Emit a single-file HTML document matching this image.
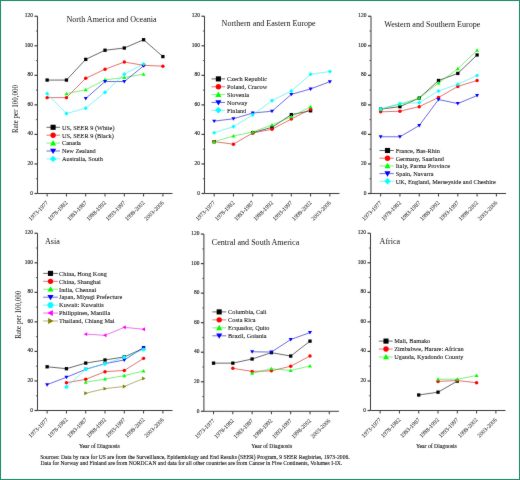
<!DOCTYPE html>
<html><head><meta charset="utf-8"><style>
html,body{margin:0;padding:0;background:#fff;}
svg{display:block;}
#w{will-change:transform;}
text{font-family:"Liberation Serif", serif;}
.tk{fill:#333;stroke:#333;stroke-width:0.05px;}
.bt{fill:#111;stroke:#111;stroke-width:0.1px;}
.yt{fill:#1a1a1a;stroke:#1a1a1a;stroke-width:0.15px;}
.lg{fill:#111;stroke:#111;stroke-width:0.08px;}
</style></head><body><div id="w">
<svg width="520" height="480" viewBox="0 0 520 480" font-family='"Liberation Serif", serif'>
<defs><filter id="soft" x="0" y="0" width="520" height="480" filterUnits="userSpaceOnUse" color-interpolation-filters="sRGB"><feConvolveMatrix order="3" kernelMatrix="1 2 1 2 40 2 1 2 1" divisor="52" edgeMode="duplicate"/></filter></defs>
<rect x="0" y="0" width="520" height="480" fill="#ffffff"/>
<rect x="1.5" y="1.5" width="517" height="477" fill="none" stroke="#dcfcf8" stroke-width="1"/>
<rect x="0.5" y="0.5" width="519" height="479" fill="none" stroke="#3a8a6e" stroke-width="1"/>
<g filter="url(#soft)">
<path d="M37.5 16.25V193.5H172.5" fill="none" stroke="#3a3a3a" stroke-width="1"/>
<path d="M34.5 193.50H37.5" stroke="#3a3a3a" stroke-width="1.2"/>
<text x="33.00" y="195.40" font-size="5.9" textLength="2.73" lengthAdjust="spacingAndGlyphs" text-anchor="end" class="yt">0</text>
<path d="M35.9 178.73H37.5" stroke="#3a3a3a" stroke-width="0.8"/>
<path d="M34.5 163.96H37.5" stroke="#3a3a3a" stroke-width="1.2"/>
<text x="33.00" y="164.86" font-size="5.9" textLength="5.45" lengthAdjust="spacingAndGlyphs" text-anchor="end" class="yt">20</text>
<path d="M35.9 149.19H37.5" stroke="#3a3a3a" stroke-width="0.8"/>
<path d="M34.5 134.42H37.5" stroke="#3a3a3a" stroke-width="1.2"/>
<text x="33.00" y="135.32" font-size="5.9" textLength="5.45" lengthAdjust="spacingAndGlyphs" text-anchor="end" class="yt">40</text>
<path d="M35.9 119.65H37.5" stroke="#3a3a3a" stroke-width="0.8"/>
<path d="M34.5 104.88H37.5" stroke="#3a3a3a" stroke-width="1.2"/>
<text x="33.00" y="105.78" font-size="5.9" textLength="5.45" lengthAdjust="spacingAndGlyphs" text-anchor="end" class="yt">60</text>
<path d="M35.9 90.11H37.5" stroke="#3a3a3a" stroke-width="0.8"/>
<path d="M34.5 75.34H37.5" stroke="#3a3a3a" stroke-width="1.2"/>
<text x="33.00" y="76.24" font-size="5.9" textLength="5.45" lengthAdjust="spacingAndGlyphs" text-anchor="end" class="yt">80</text>
<path d="M35.9 60.57H37.5" stroke="#3a3a3a" stroke-width="0.8"/>
<path d="M34.5 45.80H37.5" stroke="#3a3a3a" stroke-width="1.2"/>
<text x="33.00" y="46.70" font-size="5.9" textLength="8.18" lengthAdjust="spacingAndGlyphs" text-anchor="end" class="yt">100</text>
<path d="M35.9 31.03H37.5" stroke="#3a3a3a" stroke-width="0.8"/>
<path d="M34.5 16.26H37.5" stroke="#3a3a3a" stroke-width="1.2"/>
<text x="33.00" y="17.16" font-size="5.9" textLength="8.18" lengthAdjust="spacingAndGlyphs" text-anchor="end" class="yt">120</text>
<path d="M47.14 193.5V196.5" stroke="#3a3a3a" stroke-width="1"/>
<text transform="translate(48.64,203.30) rotate(-45)" font-size="6.0" textLength="25.13" lengthAdjust="spacingAndGlyphs" text-anchor="end" class="tk">1973-1977</text>
<path d="M66.44 193.5V196.5" stroke="#3a3a3a" stroke-width="1"/>
<text transform="translate(67.94,203.30) rotate(-45)" font-size="6.0" textLength="25.13" lengthAdjust="spacingAndGlyphs" text-anchor="end" class="tk">1978-1982</text>
<path d="M85.72 193.5V196.5" stroke="#3a3a3a" stroke-width="1"/>
<text transform="translate(87.22,203.30) rotate(-45)" font-size="6.0" textLength="25.13" lengthAdjust="spacingAndGlyphs" text-anchor="end" class="tk">1983-1987</text>
<path d="M105.02 193.5V196.5" stroke="#3a3a3a" stroke-width="1"/>
<text transform="translate(106.52,203.30) rotate(-45)" font-size="6.0" textLength="25.13" lengthAdjust="spacingAndGlyphs" text-anchor="end" class="tk">1988-1992</text>
<path d="M124.30 193.5V196.5" stroke="#3a3a3a" stroke-width="1"/>
<text transform="translate(125.80,203.30) rotate(-45)" font-size="6.0" textLength="25.13" lengthAdjust="spacingAndGlyphs" text-anchor="end" class="tk">1993-1997</text>
<path d="M143.59 193.5V196.5" stroke="#3a3a3a" stroke-width="1"/>
<text transform="translate(145.09,203.30) rotate(-45)" font-size="6.0" textLength="25.13" lengthAdjust="spacingAndGlyphs" text-anchor="end" class="tk">1998-2002</text>
<path d="M162.88 193.5V196.5" stroke="#3a3a3a" stroke-width="1"/>
<text transform="translate(164.38,203.30) rotate(-45)" font-size="6.0" textLength="25.13" lengthAdjust="spacingAndGlyphs" text-anchor="end" class="tk">2003-2006</text>
<text x="66.50" y="22.30" font-size="8.5" textLength="90.07" lengthAdjust="spacingAndGlyphs" fill="#111">North America and Oceania</text>
<path d="M47.14 80.07 L66.44 80.07 L85.72 59.39 L105.02 50.23 L124.30 48.02 L143.59 39.74 L162.88 56.58" fill="none" stroke="#000000" stroke-width="0.6" stroke-linejoin="round"/>
<path d="M47.14 97.64 L66.44 97.64 L85.72 78.29 L105.02 69.28 L124.30 62.05 L143.59 65.30 L162.88 66.18" fill="none" stroke="#d21313" stroke-width="0.6" stroke-linejoin="round"/>
<path d="M66.44 93.65 L85.72 89.81 L105.02 79.77 L124.30 77.56 L143.59 74.16" fill="none" stroke="#25e525" stroke-width="0.6" stroke-linejoin="round"/>
<path d="M85.72 98.53 L105.02 81.54 L124.30 81.54 L143.59 65.89" fill="none" stroke="#0707c7" stroke-width="0.6" stroke-linejoin="round"/>
<path d="M47.14 93.65 L66.44 113.59 L85.72 108.13 L105.02 92.33 L124.30 74.16 L143.59 63.97" fill="none" stroke="#2decec" stroke-width="0.6" stroke-linejoin="round"/>
<rect x="45.49" y="78.42" width="3.30" height="3.30" fill="#000000"/>
<rect x="64.78" y="78.42" width="3.30" height="3.30" fill="#000000"/>
<rect x="84.07" y="57.74" width="3.30" height="3.30" fill="#000000"/>
<rect x="103.36" y="48.58" width="3.30" height="3.30" fill="#000000"/>
<rect x="122.65" y="46.37" width="3.30" height="3.30" fill="#000000"/>
<rect x="141.94" y="38.09" width="3.30" height="3.30" fill="#000000"/>
<rect x="161.23" y="54.93" width="3.30" height="3.30" fill="#000000"/>
<circle cx="47.14" cy="97.64" r="1.73" fill="#ff0000"/>
<circle cx="66.44" cy="97.64" r="1.73" fill="#ff0000"/>
<circle cx="85.72" cy="78.29" r="1.73" fill="#ff0000"/>
<circle cx="105.02" cy="69.28" r="1.73" fill="#ff0000"/>
<circle cx="124.30" cy="62.05" r="1.73" fill="#ff0000"/>
<circle cx="143.59" cy="65.30" r="1.73" fill="#ff0000"/>
<circle cx="162.88" cy="66.18" r="1.73" fill="#ff0000"/>
<polygon points="66.44,91.67 68.42,95.14 64.45,95.14" fill="#00ff00"/>
<polygon points="85.72,87.83 87.70,91.30 83.74,91.30" fill="#00ff00"/>
<polygon points="105.02,77.79 107.00,81.26 103.03,81.26" fill="#00ff00"/>
<polygon points="124.30,75.58 126.28,79.04 122.32,79.04" fill="#00ff00"/>
<polygon points="143.59,72.18 145.57,75.64 141.62,75.64" fill="#00ff00"/>
<polygon points="85.72,100.51 87.70,97.04 83.74,97.04" fill="#0000ff"/>
<polygon points="105.02,83.52 107.00,80.06 103.03,80.06" fill="#0000ff"/>
<polygon points="124.30,83.52 126.28,80.06 122.32,80.06" fill="#0000ff"/>
<polygon points="143.59,67.87 145.57,64.40 141.62,64.40" fill="#0000ff"/>
<polygon points="47.14,91.59 49.21,93.65 47.14,95.72 45.08,93.65" fill="#00ffff"/>
<polygon points="66.44,111.53 68.50,113.59 66.44,115.66 64.37,113.59" fill="#00ffff"/>
<polygon points="85.72,106.07 87.79,108.13 85.72,110.19 83.66,108.13" fill="#00ffff"/>
<polygon points="105.02,90.26 107.08,92.33 105.02,94.39 102.95,92.33" fill="#00ffff"/>
<polygon points="124.30,72.10 126.37,74.16 124.30,76.22 122.24,74.16" fill="#00ffff"/>
<polygon points="143.59,61.90 145.66,63.97 143.59,66.03 141.53,63.97" fill="#00ffff"/>
<path d="M46.5 127.30H60" stroke="#000000" stroke-width="0.6"/>
<rect x="50.55" y="124.75" width="5.10" height="5.10" fill="#000000"/>
<text x="62.00" y="129.60" font-size="6.8" textLength="52.50" lengthAdjust="spacingAndGlyphs" class="lg">US, SEER 9 (White)</text>
<path d="M46.5 135.20H60" stroke="#d21313" stroke-width="0.6"/>
<circle cx="53.10" cy="135.20" r="2.68" fill="#ff0000"/>
<text x="62.00" y="137.50" font-size="6.8" textLength="51.80" lengthAdjust="spacingAndGlyphs" class="lg">US, SEER 9 (Black)</text>
<path d="M46.5 143.10H60" stroke="#25e525" stroke-width="0.6"/>
<polygon points="53.10,140.04 56.16,145.39 50.04,145.39" fill="#00ff00"/>
<text x="62.00" y="145.40" font-size="6.8" textLength="18.89" lengthAdjust="spacingAndGlyphs" class="lg">Canada</text>
<path d="M46.5 151.00H60" stroke="#0707c7" stroke-width="0.6"/>
<polygon points="53.10,154.06 56.16,148.71 50.04,148.71" fill="#0000ff"/>
<text x="62.00" y="153.30" font-size="6.8" textLength="33.76" lengthAdjust="spacingAndGlyphs" class="lg">New Zealand</text>
<path d="M46.5 158.90H60" stroke="#2decec" stroke-width="0.6"/>
<polygon points="53.10,155.71 56.29,158.90 53.10,162.09 49.91,158.90" fill="#00ffff"/>
<text x="62.00" y="161.20" font-size="6.8" textLength="40.95" lengthAdjust="spacingAndGlyphs" class="lg">Australia, South</text>
<path d="M204.5 16.25V193.5H339.5" fill="none" stroke="#3a3a3a" stroke-width="1"/>
<path d="M201.5 193.50H204.5" stroke="#3a3a3a" stroke-width="1.2"/>
<text x="200.00" y="195.40" font-size="5.9" textLength="2.73" lengthAdjust="spacingAndGlyphs" text-anchor="end" class="yt">0</text>
<path d="M202.9 178.73H204.5" stroke="#3a3a3a" stroke-width="0.8"/>
<path d="M201.5 163.96H204.5" stroke="#3a3a3a" stroke-width="1.2"/>
<text x="200.00" y="164.86" font-size="5.9" textLength="5.45" lengthAdjust="spacingAndGlyphs" text-anchor="end" class="yt">20</text>
<path d="M202.9 149.19H204.5" stroke="#3a3a3a" stroke-width="0.8"/>
<path d="M201.5 134.42H204.5" stroke="#3a3a3a" stroke-width="1.2"/>
<text x="200.00" y="135.32" font-size="5.9" textLength="5.45" lengthAdjust="spacingAndGlyphs" text-anchor="end" class="yt">40</text>
<path d="M202.9 119.65H204.5" stroke="#3a3a3a" stroke-width="0.8"/>
<path d="M201.5 104.88H204.5" stroke="#3a3a3a" stroke-width="1.2"/>
<text x="200.00" y="105.78" font-size="5.9" textLength="5.45" lengthAdjust="spacingAndGlyphs" text-anchor="end" class="yt">60</text>
<path d="M202.9 90.11H204.5" stroke="#3a3a3a" stroke-width="0.8"/>
<path d="M201.5 75.34H204.5" stroke="#3a3a3a" stroke-width="1.2"/>
<text x="200.00" y="76.24" font-size="5.9" textLength="5.45" lengthAdjust="spacingAndGlyphs" text-anchor="end" class="yt">80</text>
<path d="M202.9 60.57H204.5" stroke="#3a3a3a" stroke-width="0.8"/>
<path d="M201.5 45.80H204.5" stroke="#3a3a3a" stroke-width="1.2"/>
<text x="200.00" y="46.70" font-size="5.9" textLength="8.18" lengthAdjust="spacingAndGlyphs" text-anchor="end" class="yt">100</text>
<path d="M202.9 31.03H204.5" stroke="#3a3a3a" stroke-width="0.8"/>
<path d="M201.5 16.26H204.5" stroke="#3a3a3a" stroke-width="1.2"/>
<text x="200.00" y="17.16" font-size="5.9" textLength="8.18" lengthAdjust="spacingAndGlyphs" text-anchor="end" class="yt">120</text>
<path d="M214.15 193.5V196.5" stroke="#3a3a3a" stroke-width="1"/>
<text transform="translate(215.65,203.30) rotate(-45)" font-size="6.0" textLength="25.13" lengthAdjust="spacingAndGlyphs" text-anchor="end" class="tk">1973-1977</text>
<path d="M233.44 193.5V196.5" stroke="#3a3a3a" stroke-width="1"/>
<text transform="translate(234.94,203.30) rotate(-45)" font-size="6.0" textLength="25.13" lengthAdjust="spacingAndGlyphs" text-anchor="end" class="tk">1978-1982</text>
<path d="M252.72 193.5V196.5" stroke="#3a3a3a" stroke-width="1"/>
<text transform="translate(254.22,203.30) rotate(-45)" font-size="6.0" textLength="25.13" lengthAdjust="spacingAndGlyphs" text-anchor="end" class="tk">1983-1987</text>
<path d="M272.01 193.5V196.5" stroke="#3a3a3a" stroke-width="1"/>
<text transform="translate(273.51,203.30) rotate(-45)" font-size="6.0" textLength="25.13" lengthAdjust="spacingAndGlyphs" text-anchor="end" class="tk">1988-1992</text>
<path d="M291.31 193.5V196.5" stroke="#3a3a3a" stroke-width="1"/>
<text transform="translate(292.81,203.30) rotate(-45)" font-size="6.0" textLength="25.13" lengthAdjust="spacingAndGlyphs" text-anchor="end" class="tk">1993-1997</text>
<path d="M310.60 193.5V196.5" stroke="#3a3a3a" stroke-width="1"/>
<text transform="translate(312.10,203.30) rotate(-45)" font-size="6.0" textLength="25.13" lengthAdjust="spacingAndGlyphs" text-anchor="end" class="tk">1998-2002</text>
<path d="M329.88 193.5V196.5" stroke="#3a3a3a" stroke-width="1"/>
<text transform="translate(331.38,203.30) rotate(-45)" font-size="6.0" textLength="25.13" lengthAdjust="spacingAndGlyphs" text-anchor="end" class="tk">2003-2006</text>
<text x="221.60" y="26.40" font-size="8.5" textLength="94.10" lengthAdjust="spacingAndGlyphs" fill="#111">Northern and Eastern Europe</text>
<path d="M252.72 132.65 L272.01 127.33 L291.31 114.63 L310.60 110.79" fill="none" stroke="#000000" stroke-width="0.6" stroke-linejoin="round"/>
<path d="M214.15 141.66 L233.44 144.17 L252.72 132.94 L272.01 129.25 L291.31 119.06 L310.60 109.16" fill="none" stroke="#d21313" stroke-width="0.6" stroke-linejoin="round"/>
<path d="M214.15 141.66 L233.44 136.04 L252.72 131.91 L272.01 124.97 L291.31 116.84 L310.60 106.65" fill="none" stroke="#25e525" stroke-width="0.6" stroke-linejoin="round"/>
<path d="M214.15 121.13 L233.44 118.76 L252.72 113.00 L272.01 111.23 L291.31 94.39 L310.60 88.93 L329.88 81.69" fill="none" stroke="#0707c7" stroke-width="0.6" stroke-linejoin="round"/>
<path d="M214.15 132.80 L233.44 126.59 L252.72 114.92 L272.01 100.60 L291.31 91.00 L310.60 74.31 L329.88 71.50" fill="none" stroke="#2decec" stroke-width="0.6" stroke-linejoin="round"/>
<rect x="212.50" y="140.01" width="3.30" height="3.30" fill="#000000"/>
<rect x="251.07" y="131.00" width="3.30" height="3.30" fill="#000000"/>
<rect x="270.37" y="125.68" width="3.30" height="3.30" fill="#000000"/>
<rect x="289.66" y="112.98" width="3.30" height="3.30" fill="#000000"/>
<rect x="308.95" y="109.14" width="3.30" height="3.30" fill="#000000"/>
<circle cx="214.15" cy="141.66" r="1.73" fill="#ff0000"/>
<circle cx="233.44" cy="144.17" r="1.73" fill="#ff0000"/>
<circle cx="252.72" cy="132.94" r="1.73" fill="#ff0000"/>
<circle cx="272.01" cy="129.25" r="1.73" fill="#ff0000"/>
<circle cx="291.31" cy="119.06" r="1.73" fill="#ff0000"/>
<circle cx="310.60" cy="109.16" r="1.73" fill="#ff0000"/>
<polygon points="214.15,139.68 216.12,143.14 212.17,143.14" fill="#00ff00"/>
<polygon points="233.44,134.06 235.41,137.53 231.46,137.53" fill="#00ff00"/>
<polygon points="252.72,129.93 254.70,133.39 250.75,133.39" fill="#00ff00"/>
<polygon points="272.01,122.99 274.00,126.45 270.03,126.45" fill="#00ff00"/>
<polygon points="291.31,114.86 293.29,118.33 289.32,118.33" fill="#00ff00"/>
<polygon points="310.60,104.67 312.58,108.14 308.62,108.14" fill="#00ff00"/>
<polygon points="214.15,123.11 216.12,119.64 212.17,119.64" fill="#0000ff"/>
<polygon points="233.44,120.74 235.41,117.28 231.46,117.28" fill="#0000ff"/>
<polygon points="252.72,114.98 254.70,111.52 250.75,111.52" fill="#0000ff"/>
<polygon points="272.01,113.21 274.00,109.75 270.03,109.75" fill="#0000ff"/>
<polygon points="291.31,96.37 293.29,92.91 289.32,92.91" fill="#0000ff"/>
<polygon points="310.60,90.91 312.58,87.44 308.62,87.44" fill="#0000ff"/>
<polygon points="329.88,83.67 331.87,80.21 327.90,80.21" fill="#0000ff"/>
<polygon points="214.15,130.73 216.21,132.80 214.15,134.86 212.08,132.80" fill="#00ffff"/>
<polygon points="233.44,124.53 235.50,126.59 233.44,128.65 231.37,126.59" fill="#00ffff"/>
<polygon points="252.72,112.86 254.79,114.92 252.72,116.99 250.66,114.92" fill="#00ffff"/>
<polygon points="272.01,98.53 274.08,100.60 272.01,102.66 269.95,100.60" fill="#00ffff"/>
<polygon points="291.31,88.93 293.37,91.00 291.31,93.06 289.24,91.00" fill="#00ffff"/>
<polygon points="310.60,72.24 312.66,74.31 310.60,76.37 308.53,74.31" fill="#00ffff"/>
<polygon points="329.88,69.44 331.95,71.50 329.88,73.56 327.82,71.50" fill="#00ffff"/>
<path d="M211.5 78.90H225" stroke="#000000" stroke-width="0.6"/>
<rect x="215.85" y="76.35" width="5.10" height="5.10" fill="#000000"/>
<text x="227.00" y="81.20" font-size="6.8" textLength="40.06" lengthAdjust="spacingAndGlyphs" class="lg">Czech Republic</text>
<path d="M211.5 86.75H225" stroke="#d21313" stroke-width="0.6"/>
<circle cx="218.40" cy="86.75" r="2.68" fill="#ff0000"/>
<text x="227.00" y="89.05" font-size="6.8" textLength="40.24" lengthAdjust="spacingAndGlyphs" class="lg">Poland, Cracow</text>
<path d="M211.5 94.60H225" stroke="#25e525" stroke-width="0.6"/>
<polygon points="218.40,91.54 221.46,96.90 215.34,96.90" fill="#00ff00"/>
<text x="227.00" y="96.90" font-size="6.8" textLength="22.05" lengthAdjust="spacingAndGlyphs" class="lg">Slovenia</text>
<path d="M211.5 102.45H225" stroke="#0707c7" stroke-width="0.6"/>
<polygon points="218.40,105.51 221.46,100.16 215.34,100.16" fill="#0000ff"/>
<text x="227.00" y="104.75" font-size="6.8" textLength="20.29" lengthAdjust="spacingAndGlyphs" class="lg">Norway</text>
<path d="M211.5 110.30H225" stroke="#2decec" stroke-width="0.6"/>
<polygon points="218.40,107.11 221.59,110.30 218.40,113.49 215.21,110.30" fill="#00ffff"/>
<text x="227.00" y="112.60" font-size="6.8" textLength="19.25" lengthAdjust="spacingAndGlyphs" class="lg">Finland</text>
<path d="M371.0 16.25V193.5H506.0" fill="none" stroke="#3a3a3a" stroke-width="1"/>
<path d="M368.0 193.50H371.0" stroke="#3a3a3a" stroke-width="1.2"/>
<text x="366.50" y="195.40" font-size="5.9" textLength="2.73" lengthAdjust="spacingAndGlyphs" text-anchor="end" class="yt">0</text>
<path d="M369.4 178.73H371.0" stroke="#3a3a3a" stroke-width="0.8"/>
<path d="M368.0 163.96H371.0" stroke="#3a3a3a" stroke-width="1.2"/>
<text x="366.50" y="164.86" font-size="5.9" textLength="5.45" lengthAdjust="spacingAndGlyphs" text-anchor="end" class="yt">20</text>
<path d="M369.4 149.19H371.0" stroke="#3a3a3a" stroke-width="0.8"/>
<path d="M368.0 134.42H371.0" stroke="#3a3a3a" stroke-width="1.2"/>
<text x="366.50" y="135.32" font-size="5.9" textLength="5.45" lengthAdjust="spacingAndGlyphs" text-anchor="end" class="yt">40</text>
<path d="M369.4 119.65H371.0" stroke="#3a3a3a" stroke-width="0.8"/>
<path d="M368.0 104.88H371.0" stroke="#3a3a3a" stroke-width="1.2"/>
<text x="366.50" y="105.78" font-size="5.9" textLength="5.45" lengthAdjust="spacingAndGlyphs" text-anchor="end" class="yt">60</text>
<path d="M369.4 90.11H371.0" stroke="#3a3a3a" stroke-width="0.8"/>
<path d="M368.0 75.34H371.0" stroke="#3a3a3a" stroke-width="1.2"/>
<text x="366.50" y="76.24" font-size="5.9" textLength="5.45" lengthAdjust="spacingAndGlyphs" text-anchor="end" class="yt">80</text>
<path d="M369.4 60.57H371.0" stroke="#3a3a3a" stroke-width="0.8"/>
<path d="M368.0 45.80H371.0" stroke="#3a3a3a" stroke-width="1.2"/>
<text x="366.50" y="46.70" font-size="5.9" textLength="8.18" lengthAdjust="spacingAndGlyphs" text-anchor="end" class="yt">100</text>
<path d="M369.4 31.03H371.0" stroke="#3a3a3a" stroke-width="0.8"/>
<path d="M368.0 16.26H371.0" stroke="#3a3a3a" stroke-width="1.2"/>
<text x="366.50" y="17.16" font-size="5.9" textLength="8.18" lengthAdjust="spacingAndGlyphs" text-anchor="end" class="yt">120</text>
<path d="M380.64 193.5V196.5" stroke="#3a3a3a" stroke-width="1"/>
<text transform="translate(382.14,203.30) rotate(-45)" font-size="6.0" textLength="25.13" lengthAdjust="spacingAndGlyphs" text-anchor="end" class="tk">1973-1977</text>
<path d="M399.94 193.5V196.5" stroke="#3a3a3a" stroke-width="1"/>
<text transform="translate(401.44,203.30) rotate(-45)" font-size="6.0" textLength="25.13" lengthAdjust="spacingAndGlyphs" text-anchor="end" class="tk">1978-1982</text>
<path d="M419.23 193.5V196.5" stroke="#3a3a3a" stroke-width="1"/>
<text transform="translate(420.73,203.30) rotate(-45)" font-size="6.0" textLength="25.13" lengthAdjust="spacingAndGlyphs" text-anchor="end" class="tk">1983-1987</text>
<path d="M438.51 193.5V196.5" stroke="#3a3a3a" stroke-width="1"/>
<text transform="translate(440.01,203.30) rotate(-45)" font-size="6.0" textLength="25.13" lengthAdjust="spacingAndGlyphs" text-anchor="end" class="tk">1988-1992</text>
<path d="M457.81 193.5V196.5" stroke="#3a3a3a" stroke-width="1"/>
<text transform="translate(459.31,203.30) rotate(-45)" font-size="6.0" textLength="25.13" lengthAdjust="spacingAndGlyphs" text-anchor="end" class="tk">1993-1997</text>
<path d="M477.10 193.5V196.5" stroke="#3a3a3a" stroke-width="1"/>
<text transform="translate(478.60,203.30) rotate(-45)" font-size="6.0" textLength="25.13" lengthAdjust="spacingAndGlyphs" text-anchor="end" class="tk">1998-2002</text>
<path d="M496.38 193.5V196.5" stroke="#3a3a3a" stroke-width="1"/>
<text transform="translate(497.88,203.30) rotate(-45)" font-size="6.0" textLength="25.13" lengthAdjust="spacingAndGlyphs" text-anchor="end" class="tk">2003-2006</text>
<text x="384.20" y="26.60" font-size="8.5" textLength="96.15" lengthAdjust="spacingAndGlyphs" fill="#111">Western and Southern Europe</text>
<path d="M380.64 109.16 L399.94 106.65 L419.23 98.09 L438.51 80.51 L457.81 73.42 L477.10 54.96" fill="none" stroke="#000000" stroke-width="0.6" stroke-linejoin="round"/>
<path d="M380.64 111.82 L399.94 111.23 L419.23 106.65 L438.51 97.49 L457.81 86.42 L477.10 80.51" fill="none" stroke="#d21313" stroke-width="0.6" stroke-linejoin="round"/>
<path d="M380.64 109.16 L399.94 104.14 L419.23 98.09 L438.51 83.02 L457.81 68.84 L477.10 50.23" fill="none" stroke="#25e525" stroke-width="0.6" stroke-linejoin="round"/>
<path d="M380.64 136.78 L399.94 136.78 L419.23 125.56 L438.51 99.56 L457.81 103.55 L477.10 95.57" fill="none" stroke="#0707c7" stroke-width="0.6" stroke-linejoin="round"/>
<path d="M380.64 109.16 L399.94 103.55 L419.23 102.66 L438.51 91.00 L457.81 84.20 L477.10 75.49" fill="none" stroke="#2decec" stroke-width="0.6" stroke-linejoin="round"/>
<rect x="379.00" y="107.51" width="3.30" height="3.30" fill="#000000"/>
<rect x="398.29" y="105.00" width="3.30" height="3.30" fill="#000000"/>
<rect x="417.58" y="96.44" width="3.30" height="3.30" fill="#000000"/>
<rect x="436.87" y="78.86" width="3.30" height="3.30" fill="#000000"/>
<rect x="456.16" y="71.77" width="3.30" height="3.30" fill="#000000"/>
<rect x="475.45" y="53.31" width="3.30" height="3.30" fill="#000000"/>
<circle cx="380.64" cy="111.82" r="1.73" fill="#ff0000"/>
<circle cx="399.94" cy="111.23" r="1.73" fill="#ff0000"/>
<circle cx="419.23" cy="106.65" r="1.73" fill="#ff0000"/>
<circle cx="438.51" cy="97.49" r="1.73" fill="#ff0000"/>
<circle cx="457.81" cy="86.42" r="1.73" fill="#ff0000"/>
<circle cx="477.10" cy="80.51" r="1.73" fill="#ff0000"/>
<polygon points="380.64,107.18 382.62,110.65 378.66,110.65" fill="#00ff00"/>
<polygon points="399.94,102.16 401.92,105.63 397.95,105.63" fill="#00ff00"/>
<polygon points="419.23,96.11 421.21,99.57 417.25,99.57" fill="#00ff00"/>
<polygon points="438.51,81.04 440.50,84.51 436.53,84.51" fill="#00ff00"/>
<polygon points="457.81,66.86 459.79,70.33 455.82,70.33" fill="#00ff00"/>
<polygon points="477.10,48.25 479.08,51.72 475.12,51.72" fill="#00ff00"/>
<polygon points="380.64,138.76 382.62,135.30 378.66,135.30" fill="#0000ff"/>
<polygon points="399.94,138.76 401.92,135.30 397.95,135.30" fill="#0000ff"/>
<polygon points="419.23,127.54 421.21,124.07 417.25,124.07" fill="#0000ff"/>
<polygon points="438.51,101.54 440.50,98.08 436.53,98.08" fill="#0000ff"/>
<polygon points="457.81,105.53 459.79,102.07 455.82,102.07" fill="#0000ff"/>
<polygon points="477.10,97.55 479.08,94.09 475.12,94.09" fill="#0000ff"/>
<polygon points="380.64,107.10 382.71,109.16 380.64,111.23 378.58,109.16" fill="#00ffff"/>
<polygon points="399.94,101.49 402.00,103.55 399.94,105.61 397.87,103.55" fill="#00ffff"/>
<polygon points="419.23,100.60 421.29,102.66 419.23,104.73 417.16,102.66" fill="#00ffff"/>
<polygon points="438.51,88.93 440.58,91.00 438.51,93.06 436.45,91.00" fill="#00ffff"/>
<polygon points="457.81,82.14 459.87,84.20 457.81,86.26 455.74,84.20" fill="#00ffff"/>
<polygon points="477.10,73.43 479.16,75.49 477.10,77.55 475.03,75.49" fill="#00ffff"/>
<path d="M379.5 150.50H393.75" stroke="#000000" stroke-width="0.6"/>
<rect x="384.95" y="147.95" width="5.10" height="5.10" fill="#000000"/>
<text x="395.75" y="152.80" font-size="6.8" textLength="44.09" lengthAdjust="spacingAndGlyphs" class="lg">France, Bas-Rhin</text>
<path d="M379.5 158.20H393.75" stroke="#d21313" stroke-width="0.6"/>
<circle cx="387.50" cy="158.20" r="2.68" fill="#ff0000"/>
<text x="395.75" y="160.50" font-size="6.8" textLength="48.22" lengthAdjust="spacingAndGlyphs" class="lg">Germany, Saarland</text>
<path d="M379.5 165.90H393.75" stroke="#25e525" stroke-width="0.6"/>
<polygon points="387.50,162.84 390.56,168.19 384.44,168.19" fill="#00ff00"/>
<text x="395.75" y="168.20" font-size="6.8" textLength="54.35" lengthAdjust="spacingAndGlyphs" class="lg">Italy, Parma Province</text>
<path d="M379.5 173.60H393.75" stroke="#0707c7" stroke-width="0.6"/>
<polygon points="387.50,176.66 390.56,171.31 384.44,171.31" fill="#0000ff"/>
<text x="395.75" y="175.90" font-size="6.8" textLength="37.78" lengthAdjust="spacingAndGlyphs" class="lg">Spain, Navarra</text>
<path d="M379.5 181.30H393.75" stroke="#2decec" stroke-width="0.6"/>
<polygon points="387.50,178.11 390.69,181.30 387.50,184.49 384.31,181.30" fill="#00ffff"/>
<text x="395.75" y="183.60" font-size="6.8" textLength="100.08" lengthAdjust="spacingAndGlyphs" class="lg">UK, England, Merseyside and Cheshire</text>
<path d="M37.5 233.25V410.5H172.5" fill="none" stroke="#3a3a3a" stroke-width="1"/>
<path d="M34.5 410.50H37.5" stroke="#3a3a3a" stroke-width="1.2"/>
<text x="33.00" y="412.40" font-size="5.9" textLength="2.73" lengthAdjust="spacingAndGlyphs" text-anchor="end" class="yt">0</text>
<path d="M35.9 395.73H37.5" stroke="#3a3a3a" stroke-width="0.8"/>
<path d="M34.5 380.96H37.5" stroke="#3a3a3a" stroke-width="1.2"/>
<text x="33.00" y="381.86" font-size="5.9" textLength="5.45" lengthAdjust="spacingAndGlyphs" text-anchor="end" class="yt">20</text>
<path d="M35.9 366.19H37.5" stroke="#3a3a3a" stroke-width="0.8"/>
<path d="M34.5 351.42H37.5" stroke="#3a3a3a" stroke-width="1.2"/>
<text x="33.00" y="352.32" font-size="5.9" textLength="5.45" lengthAdjust="spacingAndGlyphs" text-anchor="end" class="yt">40</text>
<path d="M35.9 336.65H37.5" stroke="#3a3a3a" stroke-width="0.8"/>
<path d="M34.5 321.88H37.5" stroke="#3a3a3a" stroke-width="1.2"/>
<text x="33.00" y="322.78" font-size="5.9" textLength="5.45" lengthAdjust="spacingAndGlyphs" text-anchor="end" class="yt">60</text>
<path d="M35.9 307.11H37.5" stroke="#3a3a3a" stroke-width="0.8"/>
<path d="M34.5 292.34H37.5" stroke="#3a3a3a" stroke-width="1.2"/>
<text x="33.00" y="293.24" font-size="5.9" textLength="5.45" lengthAdjust="spacingAndGlyphs" text-anchor="end" class="yt">80</text>
<path d="M35.9 277.57H37.5" stroke="#3a3a3a" stroke-width="0.8"/>
<path d="M34.5 262.80H37.5" stroke="#3a3a3a" stroke-width="1.2"/>
<text x="33.00" y="263.70" font-size="5.9" textLength="8.18" lengthAdjust="spacingAndGlyphs" text-anchor="end" class="yt">100</text>
<path d="M35.9 248.03H37.5" stroke="#3a3a3a" stroke-width="0.8"/>
<path d="M34.5 233.26H37.5" stroke="#3a3a3a" stroke-width="1.2"/>
<text x="33.00" y="234.16" font-size="5.9" textLength="8.18" lengthAdjust="spacingAndGlyphs" text-anchor="end" class="yt">120</text>
<path d="M47.14 410.5V413.5" stroke="#3a3a3a" stroke-width="1"/>
<text transform="translate(48.64,420.30) rotate(-45)" font-size="6.0" textLength="25.13" lengthAdjust="spacingAndGlyphs" text-anchor="end" class="tk">1973-1977</text>
<path d="M66.44 410.5V413.5" stroke="#3a3a3a" stroke-width="1"/>
<text transform="translate(67.94,420.30) rotate(-45)" font-size="6.0" textLength="25.13" lengthAdjust="spacingAndGlyphs" text-anchor="end" class="tk">1978-1982</text>
<path d="M85.72 410.5V413.5" stroke="#3a3a3a" stroke-width="1"/>
<text transform="translate(87.22,420.30) rotate(-45)" font-size="6.0" textLength="25.13" lengthAdjust="spacingAndGlyphs" text-anchor="end" class="tk">1983-1987</text>
<path d="M105.02 410.5V413.5" stroke="#3a3a3a" stroke-width="1"/>
<text transform="translate(106.52,420.30) rotate(-45)" font-size="6.0" textLength="25.13" lengthAdjust="spacingAndGlyphs" text-anchor="end" class="tk">1988-1992</text>
<path d="M124.30 410.5V413.5" stroke="#3a3a3a" stroke-width="1"/>
<text transform="translate(125.80,420.30) rotate(-45)" font-size="6.0" textLength="25.13" lengthAdjust="spacingAndGlyphs" text-anchor="end" class="tk">1993-1997</text>
<path d="M143.59 410.5V413.5" stroke="#3a3a3a" stroke-width="1"/>
<text transform="translate(145.09,420.30) rotate(-45)" font-size="6.0" textLength="25.13" lengthAdjust="spacingAndGlyphs" text-anchor="end" class="tk">1998-2002</text>
<path d="M162.88 410.5V413.5" stroke="#3a3a3a" stroke-width="1"/>
<text transform="translate(164.38,420.30) rotate(-45)" font-size="6.0" textLength="25.13" lengthAdjust="spacingAndGlyphs" text-anchor="end" class="tk">2003-2006</text>
<text x="45.00" y="243.60" font-size="8.5" textLength="14.76" lengthAdjust="spacingAndGlyphs" fill="#111">Asia</text>
<path d="M47.14 366.78 L66.44 368.70 L85.72 363.09 L105.02 359.99 L124.30 356.88 L143.59 348.32" fill="none" stroke="#000000" stroke-width="0.6" stroke-linejoin="round"/>
<path d="M66.44 382.73 L85.72 379.34 L105.02 371.65 L124.30 370.47 L143.59 358.36" fill="none" stroke="#d21313" stroke-width="0.6" stroke-linejoin="round"/>
<path d="M85.72 382.14 L105.02 379.04 L124.30 375.64 L143.59 371.06" fill="none" stroke="#25e525" stroke-width="0.6" stroke-linejoin="round"/>
<path d="M47.14 384.65 L66.44 377.27 L85.72 369.29 L105.02 363.68 L124.30 359.99 L143.59 347.58" fill="none" stroke="#0707c7" stroke-width="0.6" stroke-linejoin="round"/>
<path d="M66.44 387.02 L85.72 369.29 L105.02 363.83 L124.30 357.18 L143.59 349.50" fill="none" stroke="#2decec" stroke-width="0.6" stroke-linejoin="round"/>
<path d="M85.72 334.14 L105.02 335.32 L124.30 327.34 L143.59 329.26" fill="none" stroke="#da1ada" stroke-width="0.6" stroke-linejoin="round"/>
<path d="M85.72 393.22 L105.02 388.64 L124.30 386.42 L143.59 378.45" fill="none" stroke="#7c7c1c" stroke-width="0.6" stroke-linejoin="round"/>
<rect x="45.49" y="365.13" width="3.30" height="3.30" fill="#000000"/>
<rect x="64.78" y="367.05" width="3.30" height="3.30" fill="#000000"/>
<rect x="84.07" y="361.44" width="3.30" height="3.30" fill="#000000"/>
<rect x="103.36" y="358.34" width="3.30" height="3.30" fill="#000000"/>
<rect x="122.65" y="355.23" width="3.30" height="3.30" fill="#000000"/>
<rect x="141.94" y="346.67" width="3.30" height="3.30" fill="#000000"/>
<circle cx="66.44" cy="382.73" r="1.73" fill="#ff0000"/>
<circle cx="85.72" cy="379.34" r="1.73" fill="#ff0000"/>
<circle cx="105.02" cy="371.65" r="1.73" fill="#ff0000"/>
<circle cx="124.30" cy="370.47" r="1.73" fill="#ff0000"/>
<circle cx="143.59" cy="358.36" r="1.73" fill="#ff0000"/>
<polygon points="85.72,380.16 87.70,383.63 83.74,383.63" fill="#00ff00"/>
<polygon points="105.02,377.06 107.00,380.52 103.03,380.52" fill="#00ff00"/>
<polygon points="124.30,373.66 126.28,377.13 122.32,377.13" fill="#00ff00"/>
<polygon points="143.59,369.08 145.57,372.55 141.62,372.55" fill="#00ff00"/>
<polygon points="47.14,386.63 49.12,383.17 45.16,383.17" fill="#0000ff"/>
<polygon points="66.44,379.25 68.42,375.78 64.45,375.78" fill="#0000ff"/>
<polygon points="85.72,371.27 87.70,367.81 83.74,367.81" fill="#0000ff"/>
<polygon points="105.02,365.66 107.00,362.19 103.03,362.19" fill="#0000ff"/>
<polygon points="124.30,361.97 126.28,358.50 122.32,358.50" fill="#0000ff"/>
<polygon points="143.59,349.56 145.57,346.09 141.62,346.09" fill="#0000ff"/>
<polygon points="68.50,387.02 67.47,388.80 65.40,388.80 64.37,387.02 65.40,385.23 67.47,385.23" fill="#00ffff"/>
<polygon points="87.79,369.29 86.76,371.08 84.69,371.08 83.66,369.29 84.69,367.51 86.76,367.51" fill="#00ffff"/>
<polygon points="107.08,363.83 106.05,365.61 103.98,365.61 102.95,363.83 103.98,362.04 106.05,362.04" fill="#00ffff"/>
<polygon points="126.37,357.18 125.34,358.97 123.27,358.97 122.24,357.18 123.27,355.39 125.34,355.39" fill="#00ffff"/>
<polygon points="145.66,349.50 144.63,351.29 142.56,351.29 141.53,349.50 142.56,347.71 144.63,347.71" fill="#00ffff"/>
<polygon points="83.74,334.14 87.21,332.16 87.21,336.12" fill="#ff00ff"/>
<polygon points="103.03,335.32 106.50,333.34 106.50,337.30" fill="#ff00ff"/>
<polygon points="122.32,327.34 125.79,325.36 125.79,329.32" fill="#ff00ff"/>
<polygon points="141.62,329.26 145.08,327.28 145.08,331.25" fill="#ff00ff"/>
<polygon points="87.70,393.22 84.24,391.24 84.24,395.20" fill="#808000"/>
<polygon points="107.00,388.64 103.53,386.66 103.53,390.62" fill="#808000"/>
<polygon points="126.28,386.42 122.82,384.44 122.82,388.40" fill="#808000"/>
<polygon points="145.57,378.45 142.11,376.47 142.11,380.43" fill="#808000"/>
<path d="M43.2 273.40H57.9" stroke="#000000" stroke-width="0.6"/>
<rect x="47.95" y="270.85" width="5.10" height="5.10" fill="#000000"/>
<text x="59.10" y="275.70" font-size="6.8" textLength="47.77" lengthAdjust="spacingAndGlyphs" class="lg">China, Hong Kong</text>
<path d="M43.2 281.33H57.9" stroke="#d21313" stroke-width="0.6"/>
<circle cx="50.50" cy="281.33" r="2.68" fill="#ff0000"/>
<text x="59.10" y="283.63" font-size="6.8" textLength="41.64" lengthAdjust="spacingAndGlyphs" class="lg">China, Shanghai</text>
<path d="M43.2 289.26H57.9" stroke="#25e525" stroke-width="0.6"/>
<polygon points="50.50,286.20 53.56,291.56 47.44,291.56" fill="#00ff00"/>
<text x="59.10" y="291.56" font-size="6.8" textLength="37.09" lengthAdjust="spacingAndGlyphs" class="lg">India, Chennai</text>
<path d="M43.2 297.19H57.9" stroke="#0707c7" stroke-width="0.6"/>
<polygon points="50.50,300.25 53.56,294.89 47.44,294.89" fill="#0000ff"/>
<text x="59.10" y="299.49" font-size="6.8" textLength="63.15" lengthAdjust="spacingAndGlyphs" class="lg">Japan, Miyagi Prefecture</text>
<path d="M43.2 305.12H57.9" stroke="#2decec" stroke-width="0.6"/>
<polygon points="53.69,305.12 52.09,307.88 48.91,307.88 47.31,305.12 48.91,302.36 52.09,302.36" fill="#00ffff"/>
<text x="59.10" y="307.42" font-size="6.8" textLength="44.62" lengthAdjust="spacingAndGlyphs" class="lg">Kuwait: Kuwaitis</text>
<path d="M43.2 313.05H57.9" stroke="#da1ada" stroke-width="0.6"/>
<polygon points="47.44,313.05 52.80,309.99 52.80,316.11" fill="#ff00ff"/>
<text x="59.10" y="315.35" font-size="6.8" textLength="51.10" lengthAdjust="spacingAndGlyphs" class="lg">Philippines, Manilla</text>
<path d="M43.2 320.98H57.9" stroke="#7c7c1c" stroke-width="0.6"/>
<polygon points="53.56,320.98 48.20,317.92 48.20,324.04" fill="#808000"/>
<text x="59.10" y="323.28" font-size="6.8" textLength="55.46" lengthAdjust="spacingAndGlyphs" class="lg">Thailand, Chiang Mai</text>
<path d="M203.9 234.05V411.3H338.9" fill="none" stroke="#3a3a3a" stroke-width="1"/>
<path d="M200.9 411.30H203.9" stroke="#3a3a3a" stroke-width="1.2"/>
<text x="199.40" y="413.20" font-size="5.9" textLength="2.73" lengthAdjust="spacingAndGlyphs" text-anchor="end" class="yt">0</text>
<path d="M202.3 396.53H203.9" stroke="#3a3a3a" stroke-width="0.8"/>
<path d="M200.9 381.76H203.9" stroke="#3a3a3a" stroke-width="1.2"/>
<text x="199.40" y="382.66" font-size="5.9" textLength="5.45" lengthAdjust="spacingAndGlyphs" text-anchor="end" class="yt">20</text>
<path d="M202.3 366.99H203.9" stroke="#3a3a3a" stroke-width="0.8"/>
<path d="M200.9 352.22H203.9" stroke="#3a3a3a" stroke-width="1.2"/>
<text x="199.40" y="353.12" font-size="5.9" textLength="5.45" lengthAdjust="spacingAndGlyphs" text-anchor="end" class="yt">40</text>
<path d="M202.3 337.45H203.9" stroke="#3a3a3a" stroke-width="0.8"/>
<path d="M200.9 322.68H203.9" stroke="#3a3a3a" stroke-width="1.2"/>
<text x="199.40" y="323.58" font-size="5.9" textLength="5.45" lengthAdjust="spacingAndGlyphs" text-anchor="end" class="yt">60</text>
<path d="M202.3 307.91H203.9" stroke="#3a3a3a" stroke-width="0.8"/>
<path d="M200.9 293.14H203.9" stroke="#3a3a3a" stroke-width="1.2"/>
<text x="199.40" y="294.04" font-size="5.9" textLength="5.45" lengthAdjust="spacingAndGlyphs" text-anchor="end" class="yt">80</text>
<path d="M202.3 278.37H203.9" stroke="#3a3a3a" stroke-width="0.8"/>
<path d="M200.9 263.60H203.9" stroke="#3a3a3a" stroke-width="1.2"/>
<text x="199.40" y="264.50" font-size="5.9" textLength="8.18" lengthAdjust="spacingAndGlyphs" text-anchor="end" class="yt">100</text>
<path d="M202.3 248.83H203.9" stroke="#3a3a3a" stroke-width="0.8"/>
<path d="M200.9 234.06H203.9" stroke="#3a3a3a" stroke-width="1.2"/>
<text x="199.40" y="234.96" font-size="5.9" textLength="8.18" lengthAdjust="spacingAndGlyphs" text-anchor="end" class="yt">120</text>
<path d="M213.55 411.3V414.3" stroke="#3a3a3a" stroke-width="1"/>
<text transform="translate(215.05,421.10) rotate(-45)" font-size="6.0" textLength="25.13" lengthAdjust="spacingAndGlyphs" text-anchor="end" class="tk">1973-1977</text>
<path d="M232.84 411.3V414.3" stroke="#3a3a3a" stroke-width="1"/>
<text transform="translate(234.34,421.10) rotate(-45)" font-size="6.0" textLength="25.13" lengthAdjust="spacingAndGlyphs" text-anchor="end" class="tk">1978-1982</text>
<path d="M252.12 411.3V414.3" stroke="#3a3a3a" stroke-width="1"/>
<text transform="translate(253.62,421.10) rotate(-45)" font-size="6.0" textLength="25.13" lengthAdjust="spacingAndGlyphs" text-anchor="end" class="tk">1983-1987</text>
<path d="M271.42 411.3V414.3" stroke="#3a3a3a" stroke-width="1"/>
<text transform="translate(272.92,421.10) rotate(-45)" font-size="6.0" textLength="25.13" lengthAdjust="spacingAndGlyphs" text-anchor="end" class="tk">1988-1992</text>
<path d="M290.70 411.3V414.3" stroke="#3a3a3a" stroke-width="1"/>
<text transform="translate(292.20,421.10) rotate(-45)" font-size="6.0" textLength="25.13" lengthAdjust="spacingAndGlyphs" text-anchor="end" class="tk">1993-1997</text>
<path d="M310.00 411.3V414.3" stroke="#3a3a3a" stroke-width="1"/>
<text transform="translate(311.50,421.10) rotate(-45)" font-size="6.0" textLength="25.13" lengthAdjust="spacingAndGlyphs" text-anchor="end" class="tk">1998-2002</text>
<path d="M329.28 411.3V414.3" stroke="#3a3a3a" stroke-width="1"/>
<text transform="translate(330.78,421.10) rotate(-45)" font-size="6.0" textLength="25.13" lengthAdjust="spacingAndGlyphs" text-anchor="end" class="tk">2003-2006</text>
<text x="211.80" y="244.60" font-size="8.5" textLength="87.41" lengthAdjust="spacingAndGlyphs" fill="#111">Central and South America</text>
<path d="M213.55 363.15 L232.84 363.15 L252.12 359.01 L271.42 352.66 L290.70 356.06 L310.00 341.14" fill="none" stroke="#000000" stroke-width="0.6" stroke-linejoin="round"/>
<path d="M232.84 368.32 L252.12 371.42 L271.42 370.83 L290.70 366.25 L310.00 355.91" fill="none" stroke="#d21313" stroke-width="0.6" stroke-linejoin="round"/>
<path d="M252.12 373.34 L271.42 368.76 L290.70 370.53 L310.00 365.96" fill="none" stroke="#25e525" stroke-width="0.6" stroke-linejoin="round"/>
<path d="M252.12 351.78 L271.42 352.07 L290.70 339.52 L310.00 332.58" fill="none" stroke="#0707c7" stroke-width="0.6" stroke-linejoin="round"/>
<rect x="211.90" y="361.50" width="3.30" height="3.30" fill="#000000"/>
<rect x="231.19" y="361.50" width="3.30" height="3.30" fill="#000000"/>
<rect x="250.47" y="357.36" width="3.30" height="3.30" fill="#000000"/>
<rect x="269.77" y="351.01" width="3.30" height="3.30" fill="#000000"/>
<rect x="289.06" y="354.41" width="3.30" height="3.30" fill="#000000"/>
<rect x="308.35" y="339.49" width="3.30" height="3.30" fill="#000000"/>
<circle cx="232.84" cy="368.32" r="1.73" fill="#ff0000"/>
<circle cx="252.12" cy="371.42" r="1.73" fill="#ff0000"/>
<circle cx="271.42" cy="370.83" r="1.73" fill="#ff0000"/>
<circle cx="290.70" cy="366.25" r="1.73" fill="#ff0000"/>
<circle cx="310.00" cy="355.91" r="1.73" fill="#ff0000"/>
<polygon points="252.12,371.36 254.10,374.83 250.15,374.83" fill="#00ff00"/>
<polygon points="271.42,366.78 273.40,370.25 269.44,370.25" fill="#00ff00"/>
<polygon points="290.70,368.55 292.69,372.02 288.72,372.02" fill="#00ff00"/>
<polygon points="310.00,363.98 311.98,367.44 308.01,367.44" fill="#00ff00"/>
<polygon points="252.12,353.76 254.10,350.29 250.15,350.29" fill="#0000ff"/>
<polygon points="271.42,354.05 273.40,350.59 269.44,350.59" fill="#0000ff"/>
<polygon points="290.70,341.50 292.69,338.03 288.72,338.03" fill="#0000ff"/>
<polygon points="310.00,334.56 311.98,331.09 308.01,331.09" fill="#0000ff"/>
<path d="M212.4 311.90H226.2" stroke="#000000" stroke-width="0.6"/>
<rect x="216.65" y="309.35" width="5.10" height="5.10" fill="#000000"/>
<text x="228.10" y="314.20" font-size="6.8" textLength="38.50" lengthAdjust="spacingAndGlyphs" class="lg">Columbia, Cali</text>
<path d="M212.4 319.87H226.2" stroke="#d21313" stroke-width="0.6"/>
<circle cx="219.20" cy="319.87" r="2.68" fill="#ff0000"/>
<text x="228.10" y="322.17" font-size="6.8" textLength="27.47" lengthAdjust="spacingAndGlyphs" class="lg">Costa Rica</text>
<path d="M212.4 327.84H226.2" stroke="#25e525" stroke-width="0.6"/>
<polygon points="219.20,324.78 222.26,330.13 216.14,330.13" fill="#00ff00"/>
<text x="228.10" y="330.14" font-size="6.8" textLength="41.39" lengthAdjust="spacingAndGlyphs" class="lg">Ecquador, Quito</text>
<path d="M212.4 335.81H226.2" stroke="#0707c7" stroke-width="0.6"/>
<polygon points="219.20,338.87 222.26,333.51 216.14,333.51" fill="#0000ff"/>
<text x="228.10" y="338.11" font-size="6.8" textLength="38.49" lengthAdjust="spacingAndGlyphs" class="lg">Brazil, Goiania</text>
<path d="M370.5 233.25V410.5H505.5" fill="none" stroke="#3a3a3a" stroke-width="1"/>
<path d="M367.5 410.50H370.5" stroke="#3a3a3a" stroke-width="1.2"/>
<text x="366.00" y="412.40" font-size="5.9" textLength="2.73" lengthAdjust="spacingAndGlyphs" text-anchor="end" class="yt">0</text>
<path d="M368.9 395.73H370.5" stroke="#3a3a3a" stroke-width="0.8"/>
<path d="M367.5 380.96H370.5" stroke="#3a3a3a" stroke-width="1.2"/>
<text x="366.00" y="381.86" font-size="5.9" textLength="5.45" lengthAdjust="spacingAndGlyphs" text-anchor="end" class="yt">20</text>
<path d="M368.9 366.19H370.5" stroke="#3a3a3a" stroke-width="0.8"/>
<path d="M367.5 351.42H370.5" stroke="#3a3a3a" stroke-width="1.2"/>
<text x="366.00" y="352.32" font-size="5.9" textLength="5.45" lengthAdjust="spacingAndGlyphs" text-anchor="end" class="yt">40</text>
<path d="M368.9 336.65H370.5" stroke="#3a3a3a" stroke-width="0.8"/>
<path d="M367.5 321.88H370.5" stroke="#3a3a3a" stroke-width="1.2"/>
<text x="366.00" y="322.78" font-size="5.9" textLength="5.45" lengthAdjust="spacingAndGlyphs" text-anchor="end" class="yt">60</text>
<path d="M368.9 307.11H370.5" stroke="#3a3a3a" stroke-width="0.8"/>
<path d="M367.5 292.34H370.5" stroke="#3a3a3a" stroke-width="1.2"/>
<text x="366.00" y="293.24" font-size="5.9" textLength="5.45" lengthAdjust="spacingAndGlyphs" text-anchor="end" class="yt">80</text>
<path d="M368.9 277.57H370.5" stroke="#3a3a3a" stroke-width="0.8"/>
<path d="M367.5 262.80H370.5" stroke="#3a3a3a" stroke-width="1.2"/>
<text x="366.00" y="263.70" font-size="5.9" textLength="8.18" lengthAdjust="spacingAndGlyphs" text-anchor="end" class="yt">100</text>
<path d="M368.9 248.03H370.5" stroke="#3a3a3a" stroke-width="0.8"/>
<path d="M367.5 233.26H370.5" stroke="#3a3a3a" stroke-width="1.2"/>
<text x="366.00" y="234.16" font-size="5.9" textLength="8.18" lengthAdjust="spacingAndGlyphs" text-anchor="end" class="yt">120</text>
<path d="M380.14 410.5V413.5" stroke="#3a3a3a" stroke-width="1"/>
<text transform="translate(381.64,420.30) rotate(-45)" font-size="6.0" textLength="25.13" lengthAdjust="spacingAndGlyphs" text-anchor="end" class="tk">1973-1977</text>
<path d="M399.44 410.5V413.5" stroke="#3a3a3a" stroke-width="1"/>
<text transform="translate(400.94,420.30) rotate(-45)" font-size="6.0" textLength="25.13" lengthAdjust="spacingAndGlyphs" text-anchor="end" class="tk">1978-1982</text>
<path d="M418.73 410.5V413.5" stroke="#3a3a3a" stroke-width="1"/>
<text transform="translate(420.23,420.30) rotate(-45)" font-size="6.0" textLength="25.13" lengthAdjust="spacingAndGlyphs" text-anchor="end" class="tk">1983-1987</text>
<path d="M438.01 410.5V413.5" stroke="#3a3a3a" stroke-width="1"/>
<text transform="translate(439.51,420.30) rotate(-45)" font-size="6.0" textLength="25.13" lengthAdjust="spacingAndGlyphs" text-anchor="end" class="tk">1988-1992</text>
<path d="M457.31 410.5V413.5" stroke="#3a3a3a" stroke-width="1"/>
<text transform="translate(458.81,420.30) rotate(-45)" font-size="6.0" textLength="25.13" lengthAdjust="spacingAndGlyphs" text-anchor="end" class="tk">1993-1997</text>
<path d="M476.60 410.5V413.5" stroke="#3a3a3a" stroke-width="1"/>
<text transform="translate(478.10,420.30) rotate(-45)" font-size="6.0" textLength="25.13" lengthAdjust="spacingAndGlyphs" text-anchor="end" class="tk">1998-2002</text>
<path d="M495.88 410.5V413.5" stroke="#3a3a3a" stroke-width="1"/>
<text transform="translate(497.38,420.30) rotate(-45)" font-size="6.0" textLength="25.13" lengthAdjust="spacingAndGlyphs" text-anchor="end" class="tk">2003-2006</text>
<text x="379.60" y="243.60" font-size="8.5" textLength="20.56" lengthAdjust="spacingAndGlyphs" fill="#111">Africa</text>
<path d="M418.73 394.99 L438.01 392.19 L457.31 381.11" fill="none" stroke="#000000" stroke-width="0.6" stroke-linejoin="round"/>
<path d="M438.01 381.40 L457.31 380.52 L476.60 382.73" fill="none" stroke="#d21313" stroke-width="0.6" stroke-linejoin="round"/>
<path d="M438.01 379.19 L457.31 379.19 L476.60 375.50" fill="none" stroke="#25e525" stroke-width="0.6" stroke-linejoin="round"/>
<rect x="417.08" y="393.34" width="3.30" height="3.30" fill="#000000"/>
<rect x="436.37" y="390.54" width="3.30" height="3.30" fill="#000000"/>
<rect x="455.66" y="379.46" width="3.30" height="3.30" fill="#000000"/>
<circle cx="438.01" cy="381.40" r="1.73" fill="#ff0000"/>
<circle cx="457.31" cy="380.52" r="1.73" fill="#ff0000"/>
<circle cx="476.60" cy="382.73" r="1.73" fill="#ff0000"/>
<polygon points="438.01,377.21 440.00,380.67 436.03,380.67" fill="#00ff00"/>
<polygon points="457.31,377.21 459.29,380.67 455.32,380.67" fill="#00ff00"/>
<polygon points="476.60,373.52 478.58,376.98 474.62,376.98" fill="#00ff00"/>
<path d="M378.8 341.10H392.7" stroke="#000000" stroke-width="0.6"/>
<rect x="383.45" y="338.55" width="5.10" height="5.10" fill="#000000"/>
<text x="394.20" y="343.40" font-size="6.8" textLength="36.04" lengthAdjust="spacingAndGlyphs" class="lg">Mali, Bamako</text>
<path d="M378.8 349.05H392.7" stroke="#d21313" stroke-width="0.6"/>
<circle cx="386.00" cy="349.05" r="2.68" fill="#ff0000"/>
<text x="394.20" y="351.35" font-size="6.8" textLength="69.44" lengthAdjust="spacingAndGlyphs" class="lg">Zimbabwe, Harare: African</text>
<path d="M378.8 357.00H392.7" stroke="#25e525" stroke-width="0.6"/>
<polygon points="386.00,353.94 389.06,359.30 382.94,359.30" fill="#00ff00"/>
<text x="394.20" y="359.30" font-size="6.8" textLength="69.12" lengthAdjust="spacingAndGlyphs" class="lg">Uganda, Kyadondo County</text>
<text transform="translate(17.60,109) rotate(-90)" font-size="7.8" textLength="48.02" lengthAdjust="spacingAndGlyphs" text-anchor="middle" fill="#111">Rate per 100,000</text>
<text transform="translate(20.50,314.7) rotate(-90)" font-size="7.8" textLength="48.02" lengthAdjust="spacingAndGlyphs" text-anchor="middle" fill="#111">Rate per 100,000</text>
<text x="79.00" y="447.80" font-size="6.0" textLength="40.83" lengthAdjust="spacingAndGlyphs" class="bt">Year of Diagnosis</text>
<text x="251.30" y="447.80" font-size="6.0" textLength="40.83" lengthAdjust="spacingAndGlyphs" class="bt">Year of Diagnosis</text>
<text x="416.00" y="447.80" font-size="6.0" textLength="40.83" lengthAdjust="spacingAndGlyphs" class="bt">Year of Diagnosis</text>
<text x="40.20" y="458.60" font-size="5.9" textLength="309.51" lengthAdjust="spacingAndGlyphs" class="bt">Sources: Data by race for US are from the Surveillance, Epidemiology and End Results (SEER) Program, 9 SEER Registries, 1973-2006.</text>
<text x="40.50" y="465.30" font-size="5.9" textLength="301.79" lengthAdjust="spacingAndGlyphs" class="bt">Data for Norway and Finland are from NORDCAN and data for all other countries are from Cancer in Five Continents, Volumes I-IX.</text>
</g>
</svg>
</div></body></html>
